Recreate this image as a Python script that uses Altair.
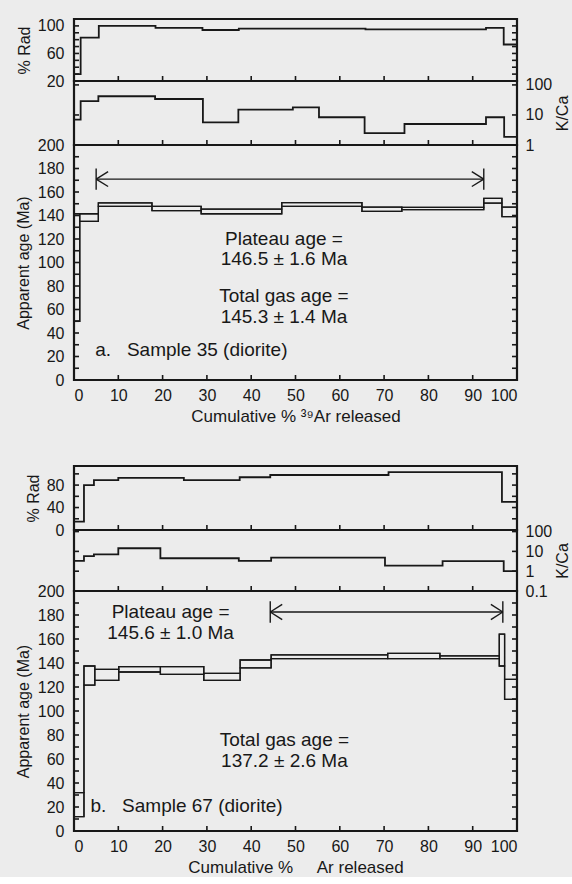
import altair as alt
import pandas as pd

FONT = "Liberation Sans"
INK = "#181818"
BG = "#ececec"
PW = 443
NB = "\u00a0"

# ---------------- Sample 35 (panel a) ----------------
a_rad_x = [0, 1.5, 5.6, 18.4, 29.0, 37.2, 65.8, 93.0, 97.0, 100]
a_rad_v = [30, 83, 100, 97, 94, 96, 95, 97, 73]
a_kca_x = [0, 1.5, 5.5, 18.3, 29.1, 37.1, 49.4, 55.3, 65.6, 74.6, 93.0, 97.1, 100]
a_kca_v = [7, 29, 42, 34, 5.7, 15, 18, 8.4, 2.5, 5.0, 8.4, 1.85]
a_age_x = [0, 1.3, 5.5, 17.6, 28.7, 46.9, 65.0, 74.0, 92.5, 96.6, 100]
a_age_lo = [50, 135, 147.8, 144.2, 141.5, 147.8, 143.5, 145, 150.6, 139]
a_age_hi = [141.5, 141.5, 150.8, 147.8, 145.5, 151, 147.2, 147, 154.5, 147.2]
a_plateau = [5.0, 92.5, 171]          # start %, end %, level (Ma)
a_text = ["Plateau age =", "146.5 ± 1.6 Ma", "Total gas age =", "145.3 ± 1.4 Ma"]
a_text_x = [47.4, 47.4, 47.4, 47.4]
a_text_y = [120, 103, 71.5, 54]
a_label = "a." + NB * 3 + "Sample 35 (diorite)"
a_label_pos = [4.8, 25.8]

# ---------------- Sample 67 (panel b) ----------------
b_rad_x = [0, 2.25, 4.5, 10.0, 24.8, 37.4, 44.3, 71.0, 96.6, 100]
b_rad_v = [15, 80, 89, 93, 89, 94, 98, 103, 50]
b_kca_x = [0, 2.25, 4.5, 10.0, 19.5, 37.2, 44.5, 70.2, 83.2, 97.0, 100]
b_kca_v = [3.3, 5.8, 7.0, 14.4, 4.5, 3.3, 4.8, 1.9, 3.2, 1.0]
b_age_x = [0, 2.25, 4.7, 10.1, 19.5, 29.3, 37.5, 44.5, 70.8, 82.6, 96.0, 97.2, 100]
b_age_lo = [12, 121.5, 125.6, 132.5, 130.6, 125.6, 136, 143.6, 143.6, 143.6, 137.5, 109.7]
b_age_hi = [32, 137.5, 134.7, 137, 137, 131.4, 142.5, 146.7, 148, 146, 164, 126.4]
b_plateau = [44.3, 96.8, 182.5]
b_text = ["Plateau age =", "145.6 ± 1.0 Ma", "Total gas age =", "137.2 ± 2.6 Ma"]
b_text_x = [21.8, 21.8, 47.5, 47.5]
b_text_y = [182.5, 165.3, 75.8, 58.3]
b_label = "b." + NB * 3 + "Sample 67 (diorite)"
b_label_pos = [3.7, 20.8]

x_labels = list(range(0, 101, 10))
x_ticks = list(range(10, 100, 10))


def step_df(xs, vs):
    return pd.DataFrame({"x": xs, "y": list(vs) + [vs[-1]]})


def xenc(axis):
    return alt.X("x:Q", scale=alt.Scale(domain=[0, 100], nice=False, zero=False), axis=axis)


def yenc(domain, axis, log=False):
    if log:
        sc = alt.Scale(type="log", domain=domain, nice=False)
    else:
        sc = alt.Scale(domain=domain, nice=False, zero=False)
    return alt.Y("y:Q", scale=sc, axis=axis)


def tick_layers(X, Y, yvals, height):
    xt = alt.Chart(pd.DataFrame({"x": x_ticks})).mark_rule(color=INK, strokeWidth=1.6).encode(
        x=X, y=alt.value(height - 5), y2=alt.value(height))
    ydf = pd.DataFrame({"y": yvals})
    yl = alt.Chart(ydf).mark_rule(color=INK, strokeWidth=1.6).encode(
        y=Y, x=alt.value(0), x2=alt.value(5))
    yr = alt.Chart(ydf).mark_rule(color=INK, strokeWidth=1.6).encode(
        y=Y, x=alt.value(PW - 5), x2=alt.value(PW))
    return [xt, yl, yr]


def step_line(X, Y, xs, vs, width=1.8):
    return alt.Chart(step_df(xs, vs)).mark_line(
        interpolate="step-after", color=INK, strokeWidth=width, clip=True).encode(x=X, y=Y)


def rad_chart(xs, vs, domain, labels, yticks, height):
    X = xenc(None)
    Y = yenc(domain, alt.Axis(values=labels, title="% Rad", labelPadding=10, titlePadding=5))
    layers = [step_line(X, Y, xs, vs)] + tick_layers(X, Y, yticks, height)
    return alt.layer(*layers).properties(width=PW, height=height)


def kca_chart(xs, vs, domain, labels, yticks, height):
    X = xenc(None)
    Y = yenc(domain, alt.Axis(values=labels, format="~g", orient="right", title="K/Ca",
                              titleAngle=270, titleBaseline="middle", titleAlign="center",
                              titleX=45, titleY=height / 2, labelPadding=8), log=True)
    layers = [step_line(X, Y, xs, vs)] + tick_layers(X, Y, yticks, height)
    return alt.layer(*layers).properties(width=PW, height=height)


def arrow_df(p, bar_half, hdx, hdy):
    x0, x1, yv = p
    xs = [x0, x0, x1, x0, x0, x1, x1]
    x2s = [x1, x0, x1, x0 + hdx, x0 + hdx, x1 - hdx, x1 - hdx]
    ys = [yv, yv - bar_half, yv - bar_half, yv, yv, yv, yv]
    y2s = [yv, yv + bar_half, yv + bar_half, yv + hdy, yv - hdy, yv + hdy, yv - hdy]
    return pd.DataFrame({"x": xs, "x2": x2s, "y": ys, "y2": y2s})


def age_chart(xs, lo, hi, plateau, texts, tx, ty, label, label_pos, xtitle, height):
    X = xenc(alt.Axis(values=x_labels, title=xtitle, labelPadding=7, titlePadding=5,
                      titleFontSize=17))
    Y = yenc([0, 200], alt.Axis(values=list(range(0, 201, 20)), title="Apparent age (Ma)",
                                labelPadding=10, titlePadding=6))
    boxes = pd.DataFrame({"x": xs[:-1], "x2": xs[1:], "y": lo, "y2": hi})
    rect = alt.Chart(boxes).mark_rect(filled=False, stroke=INK, strokeWidth=1.3).encode(
        x=X, x2="x2:Q", y=Y, y2="y2:Q")
    upper = step_line(X, Y, xs, hi, width=1.3)
    lower = step_line(X, Y, xs, lo, width=1.3)
    arrow = alt.Chart(arrow_df(plateau, 9, 2.7, 6.3)).mark_rule(color=INK, strokeWidth=1.4).encode(
        x=X, x2="x2:Q", y=Y, y2="y2:Q")
    tdf = pd.DataFrame({"x": tx, "y": ty, "t": texts})
    text = alt.Chart(tdf).mark_text(font=FONT, fontSize=19, color=INK, align="center",
                                    baseline="middle").encode(x=X, y=Y, text="t:N")
    ldf = pd.DataFrame({"x": [label_pos[0]], "y": [label_pos[1]], "t": [label]})
    lab = alt.Chart(ldf).mark_text(font=FONT, fontSize=19, color=INK, align="left",
                                   baseline="middle").encode(x=X, y=Y, text="t:N")
    layers = [rect, upper, lower, arrow, text, lab] + tick_layers(X, Y, list(range(10, 200, 10)), height)
    return alt.layer(*layers).properties(width=PW, height=height)


a1 = rad_chart(a_rad_x, a_rad_v, [20, 110], [20, 60, 100], list(range(30, 110, 10)), 62)
a2 = kca_chart(a_kca_x, a_kca_v, [1, 135], [1, 10, 100], [10, 100], 64)
a3 = age_chart(a_age_x, a_age_lo, a_age_hi, a_plateau, a_text, a_text_x, a_text_y,
               a_label, a_label_pos, "Cumulative % ³⁹Ar released", 235)

b1 = rad_chart(b_rad_x, b_rad_v, [0, 114], [0, 40, 80], [20, 40, 60, 80, 100], 64)
b2 = kca_chart(b_kca_x, b_kca_v, [0.1, 120], [0.1, 1, 10, 100], [1, 10, 100], 61)
b3 = age_chart(b_age_x, b_age_lo, b_age_hi, b_plateau, b_text, b_text_x, b_text_y,
               b_label, b_label_pos, "Cumulative %" + NB * 5 + "Ar released", 240)

panel_a = alt.vconcat(a1, a2, a3, spacing=0, bounds="flush")
panel_b = alt.vconcat(b1, b2, b3, spacing=0, bounds="flush")

chart = alt.vconcat(panel_a, panel_b, spacing=38).properties(
    padding={"left": 14, "top": 16, "right": 0, "bottom": 0},
    background=BG,
).configure_view(
    stroke=INK, strokeWidth=2.2
).configure_axis(
    labelFont=FONT, titleFont=FONT, labelFontSize=16, titleFontSize=16,
    labelColor=INK, titleColor=INK, titleFontWeight="normal",
    grid=False, domain=False, ticks=False,
)

chart.save("out.html", embed_options={"renderer": "svg", "actions": False})
